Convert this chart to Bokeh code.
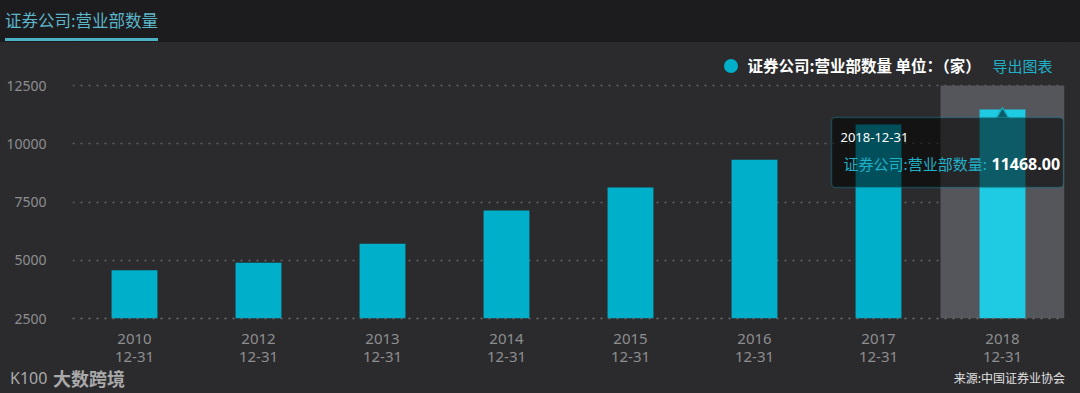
from bokeh.plotting import figure
from bokeh.models import Range1d, FixedTicker, Label, BoxAnnotation, Legend, LegendItem, Div
from bokeh.layouts import column
from bokeh.embed import file_html
from bokeh.resources import INLINE

# ---------------- data ----------------
title_text = "证券公司:营业部数量"
series_name = "证券公司:营业部数量"
unit_text = "单位：（家）"
years = ["2010", "2012", "2013", "2014", "2015", "2016", "2017", "2018"]
dates = ["12-31", "12-31", "12-31", "12-31", "12-31", "12-31", "12-31", "12-31"]
values = [4575, 4890, 5705, 7140, 8120, 9315, 10830, 11468]
y_ticks = [2500, 5000, 7500, 10000, 12500]
source_text = "来源:中国证券业协会"
export_text = "导出图表"
brand_text = "大数跨境"
brand_mark = "K100"

# ---------------- style ----------------
BG = "#2b2b2e"
HEAD_BG = "#1c1c1e"
BAR = "#00afc9"
BAR_HI = "#1ecbe2"
SHADOW = "#55565c"
TEAL = "#1fb0c8"
GRAY = "#8e8e8e"
FONT = "Noto Sans CJK SC"

W = 1080
H_HEAD = 42
H_MAIN = 326
H_FOOT = 393 - H_HEAD - H_MAIN
# frame in page pixels
PX_L, PX_R = 72, 1064
PX_TOP = H_HEAD                 # frame top (page)
PX_BASE, PX_MAX = 318, 85       # page y of first and last y tick
n = len(years)

# ---------------- header (HTML) ----------------
header = Div(
    text=(f'<div style="position:relative;width:{W}px;height:{H_HEAD}px;background:{HEAD_BG};'
          f'overflow:hidden;font-family:\'{FONT}\';">'
          f'<div style="position:absolute;left:5px;top:9px;font-size:16.5px;line-height:22px;'
          f'color:#5cb6cb;padding-bottom:7px;border-bottom:3px solid #4db1c6;white-space:nowrap;">'
          f'{title_text}</div></div>'),
    width=W, height=H_HEAD, margin=0, styles={"background-color": HEAD_BG})

# ---------------- main ----------------
xr = Range1d(-0.5, n - 0.5)
per_px = (y_ticks[-1] - y_ticks[0]) / (PX_BASE - PX_MAX)
yr = Range1d(y_ticks[0], y_ticks[-1] + (PX_MAX - PX_TOP) * per_px)
p = figure(width=W, height=H_MAIN, x_range=xr, y_range=yr, output_backend="svg",
           toolbar_location=None, min_border_left=PX_L, min_border_right=W - PX_R,
           min_border_top=0, min_border_bottom=H_HEAD + H_MAIN - PX_BASE,
           background_fill_color=BG, border_fill_color=BG, outline_line_color=None, margin=0)


def fx(px):
    return xr.start + (px - PX_L) / (PX_R - PX_L) * (xr.end - xr.start)


def fy(py):
    return y_ticks[0] + (PX_BASE - py) * per_px


xs = list(range(n))
# highlight shadow behind the last category
p.vbar(x=[xs[-1]], width=1.0, bottom=y_ticks[0], top=y_ticks[-1], fill_color=SHADOW, line_color=None)
colors = [BAR] * (n - 1) + [BAR_HI]
p.vbar(x=xs, top=values, bottom=y_ticks[0], width=0.37, fill_color=colors, line_color=None)

# axes
p.xaxis.ticker = FixedTicker(ticks=xs)
p.xaxis.major_label_overrides = {i: f"{years[i]}\n{dates[i]}" for i in xs}
p.xaxis.major_label_text_color = GRAY
p.xaxis.major_label_text_font = "Noto Sans"
p.xaxis.major_label_text_font_size = "15px"
p.xaxis.major_label_text_line_height = 0.9
p.xaxis.major_label_standoff = 9
p.xaxis.axis_line_color = "#6e6e6e"
p.xaxis.axis_line_dash = "2 6"
p.xaxis.axis_line_width = 1.5
p.xaxis.major_tick_line_color = None
p.xaxis.minor_tick_line_color = None
p.xaxis.major_tick_out = 0
p.xaxis.major_tick_in = 0

p.yaxis.ticker = FixedTicker(ticks=y_ticks)
p.yaxis.major_label_text_color = GRAY
p.yaxis.major_label_text_font = "Noto Sans"
p.yaxis.major_label_text_font_size = "14px"
p.yaxis.major_label_standoff = 26
p.yaxis.axis_line_color = None
p.yaxis.major_tick_line_color = None
p.yaxis.minor_tick_line_color = None
p.yaxis.major_tick_out = 0
p.yaxis.major_tick_in = 0

p.xgrid.visible = False
p.ygrid.ticker = FixedTicker(ticks=y_ticks)
p.ygrid.grid_line_color = "#626262"
p.ygrid.grid_line_dash = "2 6"
p.ygrid.grid_line_width = 1.5

# legend (circle marker); points have zero size so only the legend glyph shows
dot = p.scatter(x=xs, y=values, marker="circle", size=0, fill_color=BAR, line_color=None)
legend = Legend(items=[LegendItem(label=f"{series_name} {unit_text}", renderers=[dot])],
                location=(712.5 - PX_L, PX_BASE - 82.5), padding=0, margin=0, spacing=0,
                glyph_width=35, glyph_height=35, label_standoff=0,
                label_text_font=FONT, label_text_font_size="15.5px",
                label_text_font_style="bold", label_text_color="#ffffff",
                background_fill_alpha=0, border_line_color=None)
p.add_layout(legend)

p.add_layout(Label(x=fx(992), y=fy(65), text=export_text, text_font=FONT,
                   text_font_size="15px", text_color=TEAL, text_baseline="middle"))

# tooltip
p.add_layout(BoxAnnotation(left=fx(831), right=fx(1063), top=fy(117), bottom=fy(187),
                           fill_color="#000000", fill_alpha=0.55, line_color="#1aa5bb",
                           line_width=1.5, border_radius=4))
p.scatter(x=[xs[-1]], y=[fy(114)], marker="triangle", size=12, fill_color="#000000",
          fill_alpha=0.55, line_color="#1aa5bb", line_width=1.5)
p.add_layout(Label(x=fx(840), y=fy(137), text=f"{years[-1]}-{dates[-1]}",
                   text_font="Noto Sans", text_font_size="13px", text_color="#ffffff",
                   text_baseline="middle"))
p.add_layout(Label(x=fx(843), y=fy(163), text=f"{series_name}:", text_font=FONT,
                   text_font_size="15px", text_color=TEAL, text_baseline="middle"))
p.add_layout(Label(x=fx(991), y=fy(163), text=f"{values[-1]:.2f}", text_font="Noto Sans",
                   text_font_size="16px", text_font_style="bold", text_color="#ffffff",
                   text_baseline="middle"))

# ---------------- footer (HTML) ----------------
footer = Div(
    text=(f'<div style="position:relative;width:{W}px;height:{H_FOOT}px;background:{BG};'
          f'font-family:\'{FONT}\';">'
          f'<div style="position:absolute;left:10px;top:1px;font-size:16px;line-height:18px;'
          f'color:#a9a9a9;font-family:\'Noto Sans\';white-space:nowrap;">{brand_mark}</div>'
          f'<div style="position:absolute;left:53px;top:0px;font-size:18px;line-height:21px;'
          f'font-weight:bold;color:#a9a9a9;white-space:nowrap;">{brand_text}</div>'
          f'<div style="position:absolute;right:15px;top:3px;font-size:12px;line-height:14px;'
          f'color:#e0e0e0;white-space:nowrap;">{source_text}</div></div>'),
    width=W, height=H_FOOT, margin=0, styles={"background-color": BG})

layout = column(header, p, footer, spacing=0, margin=0, styles={"background-color": BG})
open("out.html", "w").write(file_html(layout, INLINE))
